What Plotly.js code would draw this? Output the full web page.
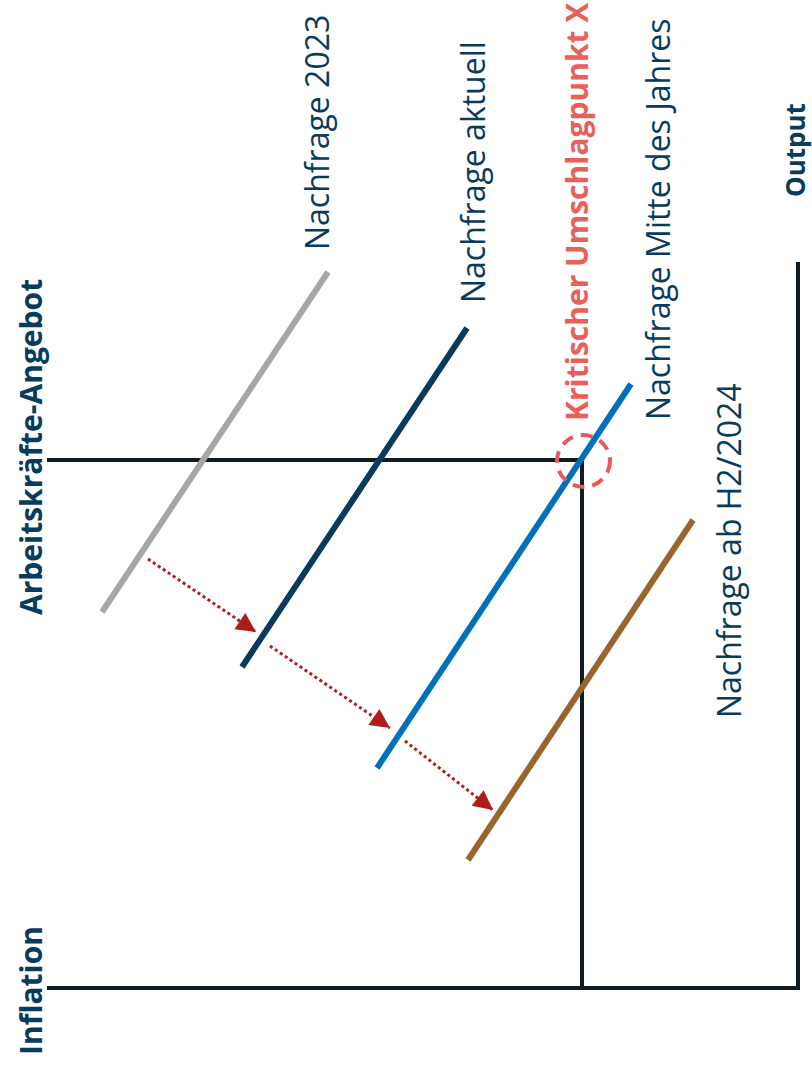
<!DOCTYPE html>
<html>
<head>
<meta charset="utf-8">
<script src="https://cdn.plot.ly/plotly-3.0.1.min.js"></script>
<style>html,body{margin:0;padding:0;background:#fff;}#chart{width:812px;height:1071px;}</style>
</head>
<body>
<div id="chart"></div>
<script>
// Demand curves (schematic coordinates)
const demandNames = ["Nachfrage 2023", "Nachfrage aktuell", "Nachfrage Mitte des Jahres", "Nachfrage ab H2/2024"];
const demandX0 = [102, 242, 377, 468];
const demandY0 = [612, 667, 768, 860];
const demandX1 = [328, 467, 631, 693];
const demandY1 = [272, 328, 384, 520];
const demandColors = ["#A6A6A6", "#073A5B", "#0070B8", "#98652F"];

// Axes / reference lines
const axisX = [47, 800];          // horizontal axis extent at axisBaseY
const axisBaseY = 988;
const outputAxisX = 798;
const outputAxisTop = 262;
const supplyY = 460;              // Arbeitskräfte-Angebot level
const tipX = 582;                 // Kritischer Umschlagpunkt x-position

// Shift arrows
const shiftX0 = [148, 270, 405];
const shiftY0 = [559, 646, 741];
const shiftX1 = [256, 390, 493];
const shiftY1 = [632, 728, 810];

// Labels
const labelTexts = ["Nachfrage 2023", "Nachfrage aktuell", "Kritischer Umschlagpunkt X", "Nachfrage Mitte des Jahres", "Nachfrage ab H2/2024", "Output", "Arbeitskräfte-Angebot", "Inflation"];
const labelX = [316, 472, 576, 657, 728, 795, 30, 30];
const labelY = [133, 172, 212, 220, 551, 150, 447, 991];

const navy = "#083B5C";
const red = "#E8605A";
const black = "#111B23";

const traces = [];
// black reference lines
traces.push({x:[axisX[0], axisX[1]], y:[axisBaseY, axisBaseY], mode:"lines", line:{color:black, width:4}, hoverinfo:"skip"});
traces.push({x:[outputAxisX, outputAxisX], y:[outputAxisTop, axisBaseY+2], mode:"lines", line:{color:black, width:4}, hoverinfo:"skip"});
traces.push({x:[axisX[0], tipX+1], y:[supplyY, supplyY], mode:"lines", line:{color:black, width:4}, hoverinfo:"skip"});
traces.push({x:[tipX, tipX], y:[supplyY-2, axisBaseY], mode:"lines", line:{color:black, width:4}, hoverinfo:"skip"});

for (let i = 0; i < demandNames.length; i++) {
  traces.push({x:[demandX0[i], demandX1[i]], y:[demandY0[i], demandY1[i]], mode:"lines", name:demandNames[i], line:{color:demandColors[i], width:6}, hoverinfo:"skip"});
}
for (let i = 0; i < shiftX0.length; i++) {
  traces.push({x:[shiftX0[i], shiftX1[i]], y:[shiftY0[i], shiftY1[i]], mode:"lines", line:{color:"#B01C1C", width:3, dash:"dot"}, hoverinfo:"skip"});
}

const annotations = [];
for (let i = 0; i < shiftX0.length; i++) {
  const dx = shiftX1[i]-shiftX0[i], dy = shiftY1[i]-shiftY0[i];
  const L = Math.sqrt(dx*dx+dy*dy);
  annotations.push({x:shiftX1[i], y:shiftY1[i], ax:shiftX1[i]-dx/L*16, ay:shiftY1[i]-dy/L*16, xref:"x", yref:"y", axref:"x", ayref:"y", text:"", showarrow:true, arrowhead:2, arrowsize:1.3, arrowwidth:3, arrowcolor:"#B01C1C", standoff:0});
}
for (let i = 0; i < labelTexts.length; i++) {
  const bold = (i === 2 || i >= 5);
  let size = bold ? 30 : 32;
  if (i === 5) size = 26;
  annotations.push({x:labelX[i], y:labelY[i], xref:"x", yref:"y", text: bold ? "<b>"+labelTexts[i]+"</b>" : labelTexts[i], textangle:-90, showarrow:false, xanchor:"center", yanchor:"middle", borderpad:0, font:{family:"Open Sans, sans-serif", size:size, color: i===2 ? red : navy}});
}

const shapes = [{type:"circle", xref:"x", yref:"y", x0:557, x1:610, y0:435, y1:487, line:{color:"#E85A5A", width:4, dash:"12px,8px"}}];

const layout = {
  width:812, height:1071, margin:{l:0, r:0, t:0, b:0},
  paper_bgcolor:"#fff", plot_bgcolor:"#fff", showlegend:false,
  xaxis:{range:[0,812], visible:false, fixedrange:true},
  yaxis:{range:[1071,0], visible:false, fixedrange:true},
  annotations:annotations, shapes:shapes
};
Plotly.newPlot("chart", traces, layout, {displayModeBar:false, staticPlot:true});
</script>
</body>
</html>
